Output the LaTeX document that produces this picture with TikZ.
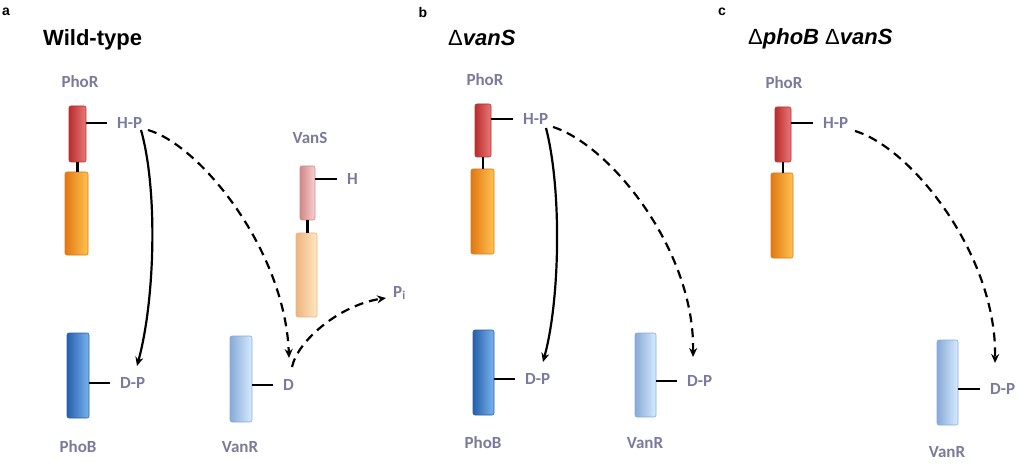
\documentclass[tikz,border=0pt]{standalone}
\usepackage{fontspec}
\setmainfont{Carlito}
\newfontfamily\titlefont{Liberation Sans}
\usetikzlibrary{arrows.meta}
\definecolor{labc}{RGB}{122,122,156}
\definecolor{redD}{RGB}{185,45,45}\definecolor{redM}{RGB}{212,68,68}\definecolor{redL}{RGB}{235,120,120}
\definecolor{orD}{RGB}{225,120,20}\definecolor{orM}{RGB}{243,148,38}\definecolor{orL}{RGB}{255,195,80}
\definecolor{blD}{RGB}{40,95,170}\definecolor{blM}{RGB}{58,122,200}\definecolor{blL}{RGB}{120,180,240}
\definecolor{lbD}{RGB}{135,170,215}\definecolor{lbM}{RGB}{160,195,235}\definecolor{lbL}{RGB}{215,235,255}
\definecolor{pkD}{RGB}{210,135,135}\definecolor{pkM}{RGB}{232,165,165}\definecolor{pkL}{RGB}{248,210,210}
\definecolor{loD}{RGB}{238,180,125}\definecolor{loM}{RGB}{250,203,148}\definecolor{loL}{RGB}{255,232,195}
\begin{document}
\begin{tikzpicture}[x=1pt,y=-1pt,
  lab/.style={font=\bfseries\fontsize{17}{17}\selectfont, text=labc, inner sep=0pt},
  labw/.style={lab, anchor=west},
  ttl/.style={font=\titlefont\bfseries\fontsize{22}{22}\selectfont, inner sep=0pt, anchor=west},
  pnl/.style={font=\titlefont\bfseries\fontsize{14}{14}\selectfont, inner sep=0pt},
  dom/.style={rectangle, rounded corners=2pt, inner sep=0pt, line width=0.6pt},
  redbox/.style={dom, draw=redD, left color=redD, middle color=redM, right color=redL},
  orbox/.style={dom, draw=orD, left color=orD, middle color=orM, right color=orL},
  blbox/.style={dom, draw=blD, left color=blD, middle color=blM, right color=blL},
  lbbox/.style={dom, draw=lbD, left color=lbD, middle color=lbM, right color=lbL},
  pkbox/.style={dom, draw=pkD, left color=pkD, middle color=pkM, right color=pkL},
  lobox/.style={dom, draw=loD, left color=loD, middle color=loM, right color=loL},
  stub/.style={line width=2.3pt, black},
  arr/.style={line width=2.2pt, black, -{Stealth[length=9pt,width=8pt]}},
  darr/.style={arr, dash pattern=on 9pt off 6pt}
]
\path[use as bounding box] (0,0) rectangle (1021,476);

% ---------- panel a ----------
\node[pnl] (pa) at (6,12) {a};
\node[ttl] (ta) at (43,40) {Wild-type};
\node[redbox, minimum width=17pt, minimum height=56pt] (rA) at (77.5,134) {};
\node[orbox, minimum width=23pt, minimum height=83pt] (oA) at (76.5,213.5) {};
\node[blbox, minimum width=22pt, minimum height=85pt] (bA) at (78,375.5) {};
\node[lbbox, minimum width=22pt, minimum height=86pt] (vA) at (241,379) {};
\node[pkbox, minimum width=15pt, minimum height=54pt] (sA) at (307.5,193) {};
\node[lobox, minimum width=21pt, minimum height=84pt] (sbA) at (306.5,275) {};
\node[lab] (phorA) at (80,82) {PhoR};
\node[lab] (phobA) at (78,447) {PhoB};
\node[lab] (vanrA) at (240,447) {VanR};
\node[lab] (vansA) at (310,138) {VanS};
\node[labw] (hpA) at (117,123) {H-P};
\node[labw] (dpA) at (120,383) {D-P};
\node[labw] (dA) at (283,385) {D};
\node[labw] (hA) at (347,179) {H};
\node[labw] (piA) at (393,293) {P\textsubscript{i}};
\draw[stub] (rA.south) -- (rA.south |- oA.north);
\draw[stub] (sA.south) -- (sA.south |- sbA.north);
\draw[stub] (rA.east |- hpA.west) -- ([xshift=-10pt]hpA.west);
\draw[stub] (bA.east |- dpA.west) -- ([xshift=-10pt]dpA.west);
\draw[stub] (vA.east |- dA.west) -- ([xshift=-10pt]dA.west);
\draw[stub] (sA.east |- hA.west) -- ([xshift=-10pt]hA.west);
\coordinate (a1s) at (141,130);
\coordinate (a1e) at (137,366);
\coordinate (a2s) at (148,130);
\coordinate (a2e) at (289,358);
\coordinate (a3s) at (292,367);
\coordinate (a3e) at (386,298);
\draw[arr] (a1s) .. controls (158,190) and (155,300) .. (a1e);
\draw[darr] (a2s) .. controls (200,145) and (285,250) .. (a2e);
\draw[darr] (a3s) .. controls (298,340) and (340,305) .. (a3e);

% ---------- panel b ----------
\node[pnl] (pb) at (423,12) {b};
\node[ttl] (tb) at (448,38) {\mdseries Δ\bfseries\itshape vanS};
\node[redbox, minimum width=16pt, minimum height=53pt] (rB) at (483,130.5) {};
\node[orbox, minimum width=23pt, minimum height=85pt] (oB) at (482.5,211.5) {};
\node[blbox, minimum width=21pt, minimum height=85pt] (bB) at (483.5,372.5) {};
\node[lbbox, minimum width=21pt, minimum height=84pt] (vB) at (645.5,375) {};
\node[lab] (phorB) at (485,80) {PhoR};
\node[lab] (phobB) at (483,443) {PhoB};
\node[lab] (vanrB) at (645,443) {VanR};
\node[labw] (hpB) at (523,119) {H-P};
\node[labw] (dpB) at (525,379) {D-P};
\node[labw] (dpB2) at (687,381) {D-P};
\draw[stub] (rB.south) -- (rB.south |- oB.north);
\draw[stub] (rB.east |- hpB.west) -- ([xshift=-10pt]hpB.west);
\draw[stub] (bB.east |- dpB.west) -- ([xshift=-10pt]dpB.west);
\draw[stub] (vB.east |- dpB2.west) -- ([xshift=-10pt]dpB2.west);
\coordinate (b1s) at (546,128);
\coordinate (b1e) at (543,362);
\coordinate (b2s) at (553,127);
\coordinate (b2e) at (693,357);
\draw[arr] (b1s) .. controls (562,190) and (560,300) .. (b1e);
\draw[darr] (b2s) .. controls (610,145) and (695,250) .. (b2e);

% ---------- panel c ----------
\node[pnl] (pc) at (722,12) {c};
\node[ttl] (tc) at (748,39) {\mdseries Δ\bfseries\itshape phoB \upshape\mdseries Δ\bfseries\itshape vanS};
\node[redbox, minimum width=16pt, minimum height=55pt] (rC) at (783,134.5) {};
\node[orbox, minimum width=22pt, minimum height=85pt] (oC) at (782,215.5) {};
\node[lbbox, minimum width=21pt, minimum height=85pt] (vC) at (947.5,382.5) {};
\node[lab] (phorC) at (784,83) {PhoR};
\node[lab] (vanrC) at (947,452) {VanR};
\node[labw] (hpC) at (823,123) {H-P};
\node[labw] (dpC) at (990,389) {D-P};
\draw[stub] (rC.south) -- (rC.south |- oC.north);
\draw[stub] (rC.east |- hpC.west) -- ([xshift=-10pt]hpC.west);
\draw[stub] (vC.east |- dpC.west) -- ([xshift=-10pt]dpC.west);
\coordinate (c1s) at (855,131);
\coordinate (c1e) at (995,363);
\draw[darr] (c1s) .. controls (912,148) and (997,256) .. (c1e);
\end{tikzpicture}
\end{document}
